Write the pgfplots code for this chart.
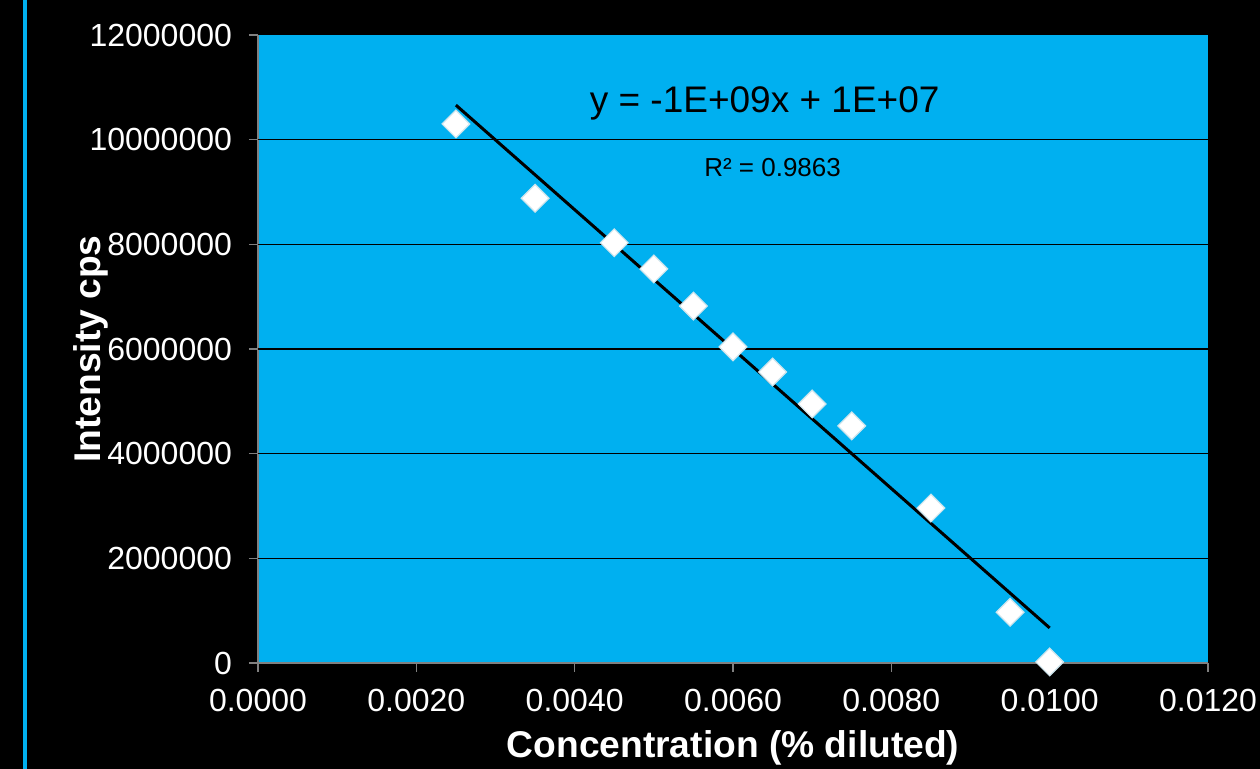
\documentclass[border=0pt]{standalone}
\usepackage{pgfplots}
\pgfplotsset{compat=1.18}
\usepackage{fontspec}
\setmainfont{Liberation Sans}
\definecolor{plotblue}{RGB}{0,176,240}
\definecolor{axisgray}{RGB}{128,128,128}
\definecolor{markedge}{RGB}{205,228,236}

\begin{document}
\begin{tikzpicture}
\path[use as bounding box] (0,0) rectangle (630pt,384.5pt);
\fill[black] (0,0) rectangle (630pt,384.5pt);
\fill[plotblue] (11.5pt,0) rectangle (13.5pt,384.5pt);
\begin{axis}[
  at={(129pt,53pt)}, anchor=south west,
  scale only axis, width=475pt, height=314pt,
  xmin=0, xmax=0.012, ymin=0, ymax=12000000,
  clip=false,
  axis x line*=bottom, axis y line*=left,
  axis line style={axisgray, line width=0.8pt, -},
  axis background/.style={fill=plotblue},
  xtick={0,0.002,0.004,0.006,0.008,0.010,0.012},
  ytick={0,2000000,4000000,6000000,8000000,10000000,12000000},
  tick align=outside,
  major tick length=4.5pt,
  tick style={axisgray, line width=0.8pt},
  tick label style={white, font=\fontsize{16}{16}\selectfont},
  /pgf/number format/assume math mode=true,
  scaled ticks=false,
  xticklabel style={yshift=-5pt, /pgf/number format/.cd, fixed, fixed zerofill, precision=4},
  yticklabel style={xshift=-5pt, /pgf/number format/.cd, fixed, 1000 sep={}},
  extra y ticks={2000000,4000000,6000000,8000000,10000000},
  extra y tick labels={},
  extra y tick style={ymajorgrids=true, major tick length=0pt,
    major grid style={black, line width=0.75pt}},
  xlabel={Concentration (\% diluted)},
  ylabel={Intensity cps},
  label style={white, font=\bfseries\fontsize{18.6}{18.6}\selectfont},
  xlabel style={at={(axis description cs:0.5,-0.135)}, anchor=center},
  ylabel style={at={(axis description cs:-0.176,0.5)}, anchor=center},
]
% measured points
\addplot[only marks, mark=square*, mark size=4.9pt,
  mark options={rotate=45, fill=white, draw=markedge, line width=0.6pt}]
  coordinates {
  (0.0025,10300000)
  (0.0035,8880000)
  (0.0045,8030000)
  (0.0050,7530000)
  (0.0055,6820000)
  (0.0060,6040000)
  (0.0065,5560000)
  (0.0070,4950000)
  (0.0075,4530000)
  (0.0085,2960000)
  (0.0095,970000)
  (0.0100,20000)
};
% linear trendline
\addplot[black, line width=1.5pt] coordinates {(0.0025,10660000) (0.0100,670000)};
\node[font=\fontsize{18.5}{18.5}\selectfont] at (axis cs:0.0064,10700000) {y = -1E+09x + 1E+07};
\node[font=\fontsize{13}{13}\selectfont] at (axis cs:0.0065,9460000) {R² = 0.9863};
\end{axis}
\end{tikzpicture}
\end{document}
